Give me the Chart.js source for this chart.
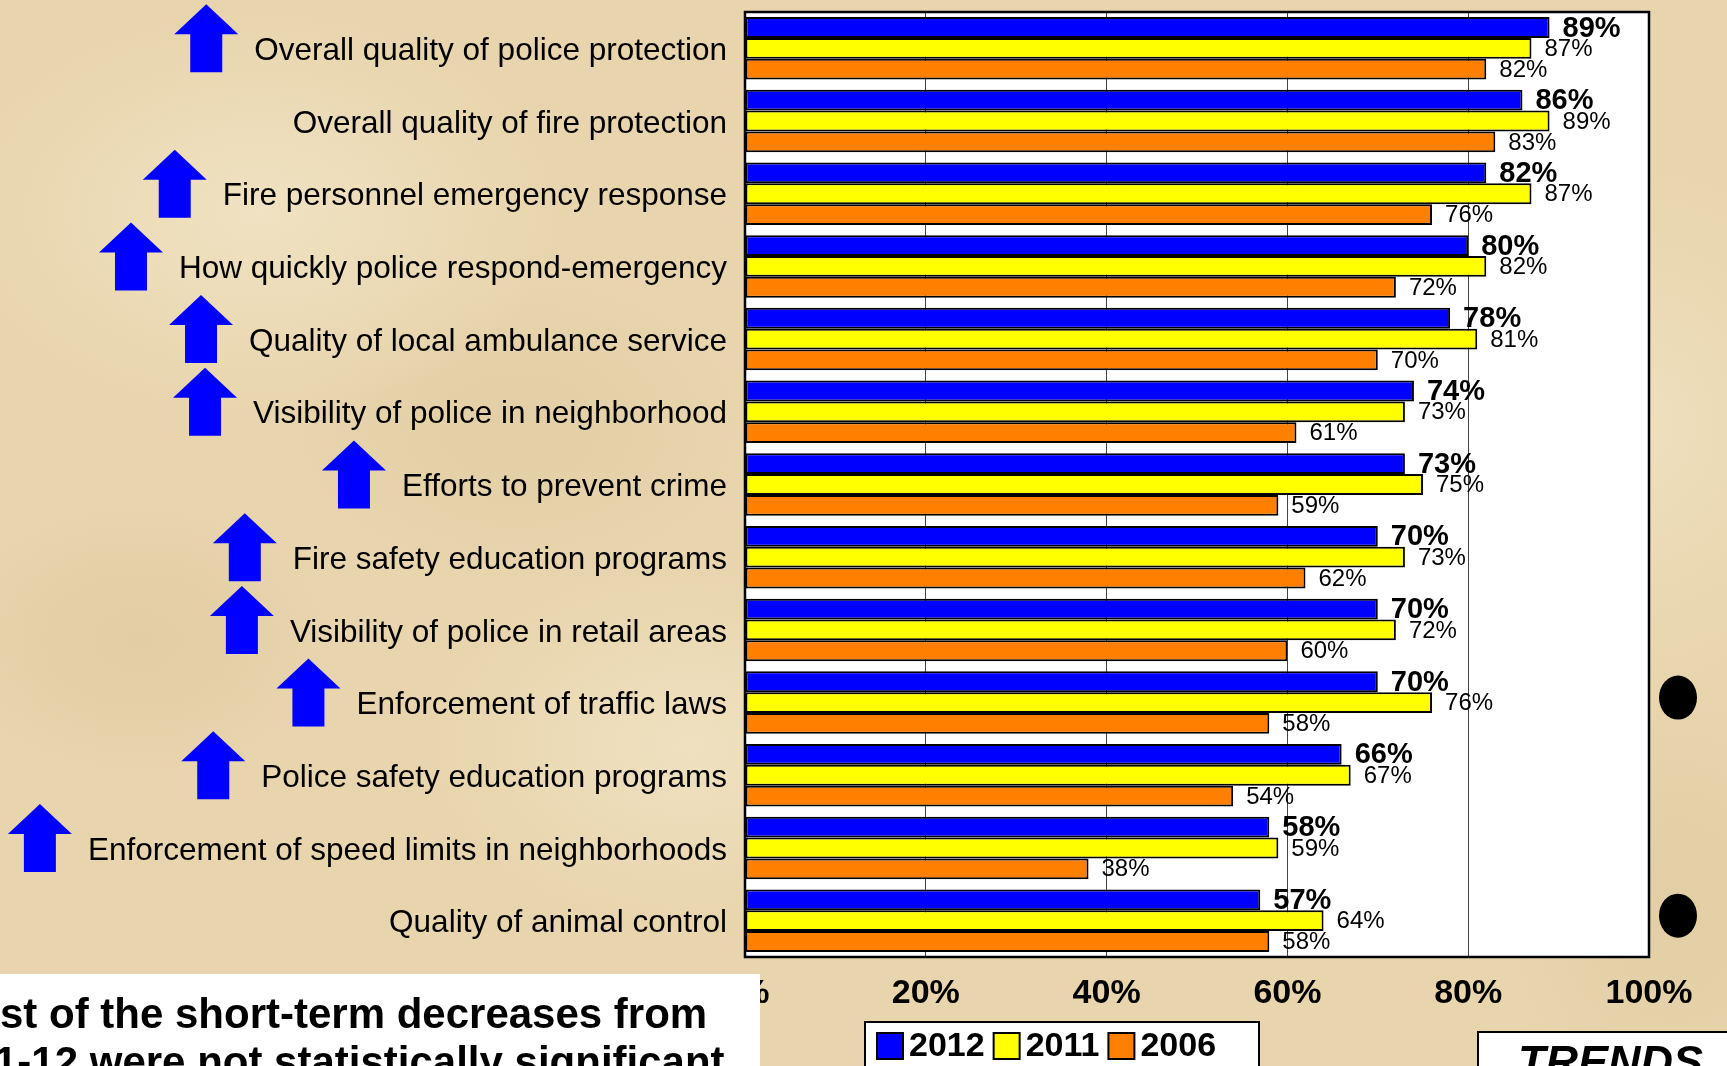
<!DOCTYPE html>
<html>
<head>
<meta charset="utf-8">
<title>Public safety services - trends</title>
<script src="https://cdn.jsdelivr.net/npm/chart.js@4.4.1/dist/chart.umd.min.js"></script>
<style>
  html, body { margin: 0; padding: 0; }
  body {
    width: 1727px;
    height: 1066px;
    overflow: hidden;
    background-color: #e8d5ad;
    background-image:
      radial-gradient(ellipse 300px 200px at 15% 20%, rgba(245, 234, 208, 0.6), rgba(245, 234, 208, 0)),
      radial-gradient(ellipse 260px 180px at 40% 70%, rgba(245, 234, 208, 0.55), rgba(245, 234, 208, 0)),
      radial-gradient(ellipse 220px 260px at 95% 40%, rgba(244, 232, 204, 0.5), rgba(244, 232, 204, 0)),
      radial-gradient(ellipse 200px 140px at 8% 60%, rgba(214, 190, 146, 0.35), rgba(214, 190, 146, 0)),
      radial-gradient(ellipse 240px 160px at 30% 40%, rgba(216, 192, 148, 0.3), rgba(216, 192, 148, 0)),
      radial-gradient(ellipse 180px 220px at 97% 85%, rgba(214, 190, 146, 0.3), rgba(214, 190, 146, 0));
  }
  #chart { display: block; }
</style>
</head>
<body>
<canvas id="chart" width="1727" height="1066"></canvas>
<script>
// Survey items, top to bottom
const categories = [
    'Overall quality of police protection',
    'Overall quality of fire protection',
    'Fire personnel emergency response',
    'How quickly police respond-emergency',
    'Quality of local ambulance service',
    'Visibility of police in neighborhood',
    'Efforts to prevent crime',
    'Fire safety education programs',
    'Visibility of police in retail areas',
    'Enforcement of traffic laws',
    'Police safety education programs',
    'Enforcement of speed limits in neighborhoods',
    'Quality of animal control'
];
const years = ['2012', '2011', '2006'];
const values2012 = [89, 86, 82, 80, 78, 74, 73, 70, 70, 70, 66, 58, 57];
const values2011 = [87, 89, 87, 82, 81, 73, 75, 73, 72, 76, 67, 59, 64];
const values2006 = [82, 83, 76, 72, 70, 61, 59, 62, 60, 58, 54, 38, 58];
// long-term increase (blue arrow) and short-term decrease (black dot)
const trendUp = [1, 0, 1, 1, 1, 1, 1, 1, 1, 1, 1, 1, 0];
const shortTermDrop = [0, 0, 0, 0, 0, 0, 0, 0, 0, 1, 0, 0, 1];
const xTicks = [0, 20, 40, 60, 80, 100];
const noteLines = ['st of the short-term decreases from', '1-12 were not statistically significant'];
const trendsTitle = 'TRENDS';

const FONT = "'Liberation Sans', Arial, sans-serif";
const barColors = ['#0000ff', '#ffff00', '#ff8000'];
const labelFont = '31.5px ' + FONT;
const labelPad = 18;

// white plot area
const plotBackground = {
    id: 'plotBackground',
    beforeDraw(chart) {
        const { ctx, chartArea: a } = chart;
        ctx.save();
        ctx.fillStyle = '#ffffff';
        ctx.fillRect(a.left, a.top, a.right - a.left, a.bottom - a.top);
        ctx.restore();
    }
};

// border + value labels next to the bars
const barLabels = {
    id: 'barLabels',
    afterDatasetsDraw(chart) {
        const { ctx, chartArea: a } = chart;
        ctx.save();
        ctx.strokeStyle = '#000';
        ctx.lineWidth = 2.5;
        ctx.strokeRect(a.left, a.top, a.right - a.left, a.bottom - a.top);
        ctx.fillStyle = '#000';
        ctx.textAlign = 'left';
        ctx.textBaseline = 'middle';
        chart.data.datasets.forEach((ds, i) => {
            ctx.font = (i === 0 ? 'bold 29px ' : '24px ') + FONT;
            chart.getDatasetMeta(i).data.forEach((el, j) => {
                ctx.fillText(ds.data[j] + '%', el.x + 13, el.y + 1);
            });
        });
        ctx.restore();
    }
};

// arrows, dots, note box, legend, trends box
const decorations = {
    id: 'decorations',
    afterDraw(chart) {
        const { ctx, chartArea: a } = chart;
        const yScale = chart.scales.y;
        ctx.save();

        // blue up arrows left of the item labels
        ctx.font = labelFont;
        categories.forEach((label, i) => {
            if (!trendUp[i]) return;
            const yc = yScale.getPixelForValue(i);
            const textLeft = a.left - labelPad - ctx.measureText(label).width;
            const right = textLeft - 16;
            const w = 64, top = yc - 44, bottom = yc + 24, head = 30, shaft = 32;
            const cx = right - w / 2;
            ctx.fillStyle = '#0000ff';
            ctx.beginPath();
            ctx.moveTo(cx, top);
            ctx.lineTo(right, top + head);
            ctx.lineTo(cx + shaft / 2, top + head);
            ctx.lineTo(cx + shaft / 2, bottom);
            ctx.lineTo(cx - shaft / 2, bottom);
            ctx.lineTo(cx - shaft / 2, top + head);
            ctx.lineTo(right - w, top + head);
            ctx.closePath();
            ctx.fill();
        });

        // black dots right of the plot
        categories.forEach((label, i) => {
            if (!shortTermDrop[i]) return;
            const yc = yScale.getPixelForValue(i) - 5;
            ctx.fillStyle = '#000';
            ctx.beginPath();
            ctx.ellipse(a.right + 29, yc, 19, 22, 0, 0, Math.PI * 2);
            ctx.fill();
        });

        // note box, bottom left
        ctx.fillStyle = '#ffffff';
        ctx.fillRect(0, 974, 760, 100);
        ctx.fillStyle = '#000';
        ctx.font = 'bold 42px ' + FONT;
        ctx.textAlign = 'left';
        ctx.textBaseline = 'alphabetic';
        ctx.fillText(noteLines[0], 0, 1028);
        ctx.fillText(noteLines[1], -6, 1076);

        // legend
        ctx.fillStyle = '#ffffff';
        ctx.fillRect(865, 1022, 394, 60);
        ctx.strokeStyle = '#000';
        ctx.lineWidth = 2;
        ctx.strokeRect(865, 1022, 394, 60);
        ctx.font = 'bold 34px ' + FONT;
        ctx.textBaseline = 'middle';
        let x = 877;
        chart.data.datasets.forEach((ds) => {
            ctx.fillStyle = ds.backgroundColor;
            ctx.fillRect(x, 1033, 26, 26);
            ctx.strokeRect(x, 1033, 26, 26);
            ctx.fillStyle = '#000';
            ctx.fillText(ds.label, x + 32, 1047);
            x += 32 + ctx.measureText(ds.label).width + 9;
        });

        // trends box
        ctx.fillStyle = '#ffffff';
        ctx.fillRect(1478, 1032, 260, 60);
        ctx.strokeRect(1478, 1032, 260, 60);
        ctx.fillStyle = '#000';
        ctx.font = 'italic bold 45px ' + FONT;
        ctx.textBaseline = 'alphabetic';
        ctx.fillText(trendsTitle, 1518, 1077);

        ctx.restore();
    }
};

new Chart(document.getElementById('chart'), {
    type: 'bar',
    data: {
        labels: categories,
        datasets: [values2012, values2011, values2006].map((vals, i) => ({
            label: years[i],
            data: vals,
            backgroundColor: barColors[i],
            borderColor: '#000',
            borderWidth: 2,
            borderSkipped: false,
            categoryPercentage: 0.86,
            barPercentage: 1.0
        }))
    },
    options: {
        indexAxis: 'y',
        responsive: false,
        animation: false,
        devicePixelRatio: 1,
        layout: { padding: { top: 12, right: 78, left: 0, bottom: 0 } },
        scales: {
            x: {
                min: 0,
                max: 100,
                afterBuildTicks(scale) { scale.ticks = xTicks.map(v => ({ value: v })); },
                afterFit(scale) {
                    scale.height = 109;
                    scale.paddingLeft = 0;
                    scale.paddingRight = 0;
                },
                grid: { color: '#444', lineWidth: 1, drawTicks: false },
                border: { display: false },
                ticks: {
                    padding: 16,
                    maxRotation: 0,
                    color: '#000',
                    font: { family: FONT, size: 34, weight: 'bold' },
                    callback: v => v + '%'
                }
            },
            y: {
                afterFit(scale) {
                    scale.width = 745;
                    scale.paddingTop = 0;
                    scale.paddingBottom = 0;
                },
                grid: { display: false, drawTicks: false },
                border: { display: false },
                ticks: {
                    autoSkip: false,
                    padding: labelPad,
                    labelOffset: 3,
                    color: '#000',
                    font: { family: FONT, size: 31.5 }
                }
            }
        },
        plugins: {
            legend: { display: false },
            tooltip: { enabled: false }
        }
    },
    plugins: [plotBackground, barLabels, decorations]
});
</script>
</body>
</html>
